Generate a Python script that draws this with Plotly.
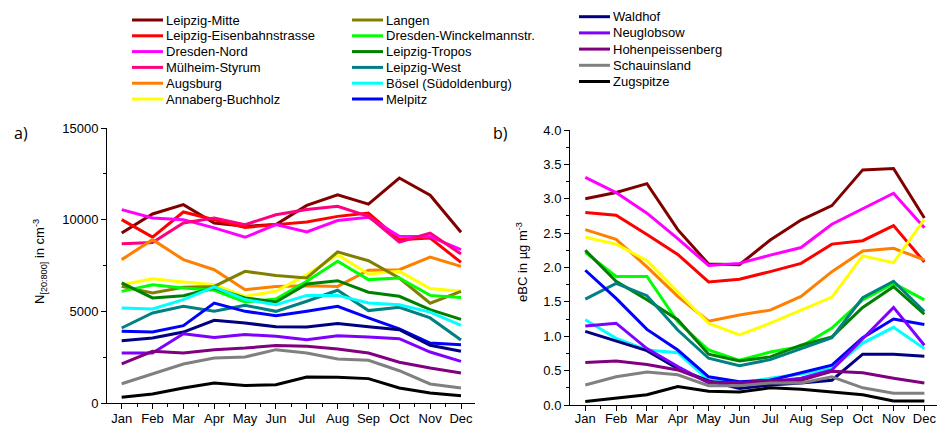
import plotly.graph_objects as go

months = ["Jan", "Feb", "Mar", "Apr", "May", "Jun", "Jul", "Aug", "Sep", "Oct", "Nov", "Dec"]

stations = ["Leipzig-Mitte", "Leipzig-Eisenbahnstrasse", "Dresden-Nord", "Mülheim-Styrum",
            "Augsburg", "Annaberg-Buchholz", "Langen", "Dresden-Winckelmannstr.",
            "Leipzig-Tropos", "Leipzig-West", "Bösel (Südoldenburg)", "Melpitz",
            "Waldhof", "Neuglobsow", "Hohenpeissenberg", "Schauinsland", "Zugspitze"]

colors = ["#800000", "#FF0000", "#FF00FF", "#FF0080", "#FF8000", "#FFFF00",
          "#808000", "#00FF00", "#008000", "#008080", "#00FFFF", "#0000FF",
          "#000080", "#8000FF", "#800080", "#808080", "#000000"]

# a) particle number concentration N[20:800] in cm^-3
N_leipzig_mitte = [9270, 10310, 10820, 9820, 9640, 9730, 10780, 11360, 10850, 12270, 11330, 9310]
N_leipzig_eisenbahn = [10000, 9050, 10420, 10000, 9580, 9730, 9870, 10180, 10360, 8910, 9000, 7670]
N_dresden_nord = [10550, 10090, 10000, 9550, 9040, 9730, 9330, 9950, 10130, 9090, 9070, 8360]
N_muelheim = [8690, 8760, 9820, 10090, 9730, 10270, 10550, 10730, 10180, 8780, 9270, 8130]
N_augsburg = [7820, 8910, 7820, 7270, 6180, 6360, 6400, 6360, 7240, 7270, 7960, 7450]
N_annaberg = [6450, 6780, 6600, 6450, 5820, 6090, 7000, 8090, 7040, 7180, 6240, 6090]
N_langen = [6360, 6000, 6310, 6360, 7180, 6950, 6820, 8240, 7760, 6820, 5440, 6090]
N_dresden_winck = [6090, 6450, 6270, 6150, 5510, 5670, 6640, 7730, 6730, 6820, 5870, 5760]
N_leipzig_tropos = [6550, 5730, 5850, 6270, 5730, 5510, 6490, 6670, 6040, 5820, 5090, 4560]
N_leipzig_west = [4090, 4910, 5270, 5000, 5330, 5000, 5550, 6150, 5040, 5220, 4640, 3440]
N_boesel = [5180, 5130, 5640, 6330, 5640, 5360, 5870, 5870, 5450, 5360, 4960, 4240]
N_melpitz = [3910, 3870, 4220, 5450, 5000, 4760, 5000, 5270, 4640, 4040, 3270, 3180]
N_waldhof = [3400, 3550, 3870, 4510, 4360, 4160, 4150, 4330, 4160, 4000, 3150, 2820]
N_neuglobsow = [2730, 2730, 3780, 3580, 3730, 3640, 3450, 3670, 3600, 3510, 2780, 2270]
N_hohenpeissenberg = [2130, 2820, 2730, 2910, 3000, 3130, 3090, 2950, 2730, 2220, 1910, 1640]
N_schauinsland = [1050, 1580, 2130, 2450, 2510, 2910, 2730, 2400, 2330, 1760, 1040, 820]
N_zugspitze = [310, 490, 820, 1090, 960, 1000, 1420, 1400, 1330, 820, 550, 400]

# b) equivalent black carbon eBC in ug m^-3 (None = station not shown)
eBC_leipzig_mitte = [3.00, 3.09, 3.22, 2.55, 2.05, 2.04, 2.40, 2.69, 2.90, 3.42, 3.44, 2.72]
eBC_leipzig_eisenbahn = [2.80, 2.76, 2.48, 2.19, 1.79, 1.83, 1.94, 2.06, 2.34, 2.39, 2.61, 2.08]
eBC_dresden_nord = [3.31, 3.09, 2.79, 2.42, 2.03, 2.06, 2.18, 2.29, 2.63, 2.86, 3.08, 2.58]
eBC_muelheim = None
eBC_augsburg = [2.55, 2.41, 2.01, 1.58, 1.22, 1.31, 1.38, 1.58, 1.94, 2.24, 2.28, 2.11]
eBC_annaberg = [2.44, 2.34, 2.10, 1.65, 1.19, 1.02, 1.19, 1.38, 1.57, 2.17, 2.07, 2.70]
eBC_langen = None
eBC_dresden_winck = [2.22, 1.87, 1.87, 1.21, 0.80, 0.65, 0.77, 0.85, 1.12, 1.53, 1.77, 1.53]
eBC_leipzig_tropos = [2.25, 1.80, 1.53, 1.24, 0.74, 0.64, 0.70, 0.87, 0.99, 1.42, 1.72, 1.32]
eBC_leipzig_west = [1.54, 1.77, 1.59, 1.09, 0.68, 0.57, 0.66, 0.82, 0.98, 1.56, 1.80, 1.36]
eBC_boesel = [1.24, 0.97, 0.80, 0.76, 0.36, 0.32, 0.39, 0.45, 0.53, 0.90, 1.13, 0.82]
eBC_melpitz = [1.96, 1.55, 1.10, 0.80, 0.41, 0.34, 0.36, 0.47, 0.58, 0.98, 1.25, 1.17]
eBC_waldhof = [1.07, 0.93, 0.79, 0.53, 0.35, 0.24, 0.29, 0.32, 0.36, 0.74, 0.74, 0.71]
eBC_neuglobsow = [1.15, 1.19, 0.82, 0.56, 0.32, 0.32, 0.34, 0.39, 0.51, 0.97, 1.42, 0.87]
eBC_hohenpeissenberg = [0.62, 0.64, 0.59, 0.51, 0.34, 0.32, 0.36, 0.36, 0.49, 0.47, 0.39, 0.32]
eBC_schauinsland = [0.29, 0.41, 0.48, 0.44, 0.28, 0.28, 0.32, 0.32, 0.41, 0.25, 0.17, 0.17]
eBC_zugspitze = [0.05, 0.10, 0.15, 0.27, 0.20, 0.19, 0.25, 0.23, 0.19, 0.15, 0.06, 0.06]

N_series = [N_leipzig_mitte, N_leipzig_eisenbahn, N_dresden_nord, N_muelheim, N_augsburg,
            N_annaberg, N_langen, N_dresden_winck, N_leipzig_tropos, N_leipzig_west,
            N_boesel, N_melpitz, N_waldhof, N_neuglobsow, N_hohenpeissenberg,
            N_schauinsland, N_zugspitze]
eBC_series = [eBC_leipzig_mitte, eBC_leipzig_eisenbahn, eBC_dresden_nord, eBC_muelheim,
              eBC_augsburg, eBC_annaberg, eBC_langen, eBC_dresden_winck, eBC_leipzig_tropos,
              eBC_leipzig_west, eBC_boesel, eBC_melpitz, eBC_waldhof, eBC_neuglobsow,
              eBC_hohenpeissenberg, eBC_schauinsland, eBC_zugspitze]

W, H = 937, 426
FONT = "Liberation Sans, Arial, sans-serif"
xi = list(range(len(months)))

fig = go.Figure()
for name, col, nv in zip(stations, colors, N_series):
    fig.add_trace(go.Scatter(x=xi, y=nv, mode="lines", name=name, showlegend=False,
                             line=dict(color=col, width=3), xaxis="x", yaxis="y"))
for name, col, ev in zip(stations, colors, eBC_series):
    if ev is None:
        continue
    fig.add_trace(go.Scatter(x=xi, y=ev, mode="lines", name=name, showlegend=False,
                             line=dict(color=col, width=3), xaxis="x2", yaxis="y2"))

def px_x(p):
    return p / W

def px_y(p):
    return 1 - p / H

axis_common = dict(showline=True, linecolor="black", linewidth=1, ticks="outside",
                   ticklen=5, tickwidth=1, tickcolor="black", showgrid=False,
                   zeroline=False, automargin=False,
                   tickfont=dict(family=FONT, size=13, color="black"))

# legend layout (three columns, drawn as swatch lines + labels)
legend_columns = [(132, 20.0, 15.8, stations[0:6], colors[0:6]),
                  (352, 20.0, 15.8, stations[6:12], colors[6:12]),
                  (579, 16.7, 16.2, stations[12:17], colors[12:17])]
shapes = []
annotations = []
for x0, y0, step, names, cols in legend_columns:
    for i, (nm, c) in enumerate(zip(names, cols)):
        yy = y0 + i * step
        shapes.append(dict(type="line", xref="paper", yref="paper",
                           x0=px_x(x0), x1=px_x(x0 + 31), y0=px_y(yy), y1=px_y(yy),
                           line=dict(color=c, width=3)))
        annotations.append(dict(text=nm, x=px_x(x0 + 32), y=px_y(yy), xref="paper", yref="paper",
                                xanchor="left", yanchor="middle", showarrow=False,
                                font=dict(family=FONT, size=13, color="black")))

annotations += [
    dict(text="a)", x=px_x(12), y=px_y(133), xref="paper", yref="paper",
         xanchor="left", yanchor="middle", showarrow=False,
         font=dict(family="Open Sans, sans-serif", size=16)),
    dict(text="b)", x=px_x(491), y=px_y(133), xref="paper", yref="paper",
         xanchor="left", yanchor="middle", showarrow=False,
         font=dict(family="Open Sans, sans-serif", size=16)),
    dict(text="N<sub>[20:800]</sub> in cm<sup>-3</sup>", x=px_x(40), y=px_y(262),
         xref="paper", yref="paper", textangle=-90, showarrow=False,
         xanchor="center", yanchor="middle", font=dict(family=FONT, size=13)),
    dict(text="eBC in µg m<sup>-3</sup>", x=px_x(522), y=px_y(262),
         xref="paper", yref="paper", textangle=-90, showarrow=False,
         xanchor="center", yanchor="middle", font=dict(family=FONT, size=13)),
]

fig.update_layout(
    width=W, height=H, margin=dict(l=0, r=0, t=0, b=0, autoexpand=False),
    paper_bgcolor="white", plot_bgcolor="white", showlegend=False,
    font=dict(family=FONT, size=13, color="black"),
    xaxis=dict(domain=[px_x(107), px_x(475)], range=[-0.476, 11.454], anchor="y",
               tickvals=xi, ticktext=months, ticklabelstandoff=-2,
               minor=dict(ticks="outside", ticklen=3, dtick=0.5, tick0=0, tickcolor="black"),
               **axis_common),
    yaxis=dict(domain=[px_y(403), px_y(128)], range=[0, 15000], anchor="x",
               dtick=5000, tickformat="d",
               minor=dict(ticks="outside", ticklen=3, dtick=2500, tickcolor="black"),
               **axis_common),
    xaxis2=dict(domain=[px_x(570), 1.0], range=[-0.496, 11.41], anchor="y2",
                tickvals=xi, ticktext=months, ticklabelstandoff=-4,
                minor=dict(ticks="outside", ticklen=3, dtick=0.5, tick0=0, tickcolor="black"),
                **axis_common),
    yaxis2=dict(domain=[px_y(405), px_y(130)], range=[0, 4.0], anchor="x2",
                dtick=0.5, tickformat=".1f",
                minor=dict(ticks="outside", ticklen=3, dtick=0.25, tickcolor="black"),
                **axis_common),
    shapes=shapes,
    annotations=annotations,
)

fig.write_html("out.html", config={"displayModeBar": False},
               post_script="document.body.style.margin='0px';document.body.style.overflow='hidden';")
